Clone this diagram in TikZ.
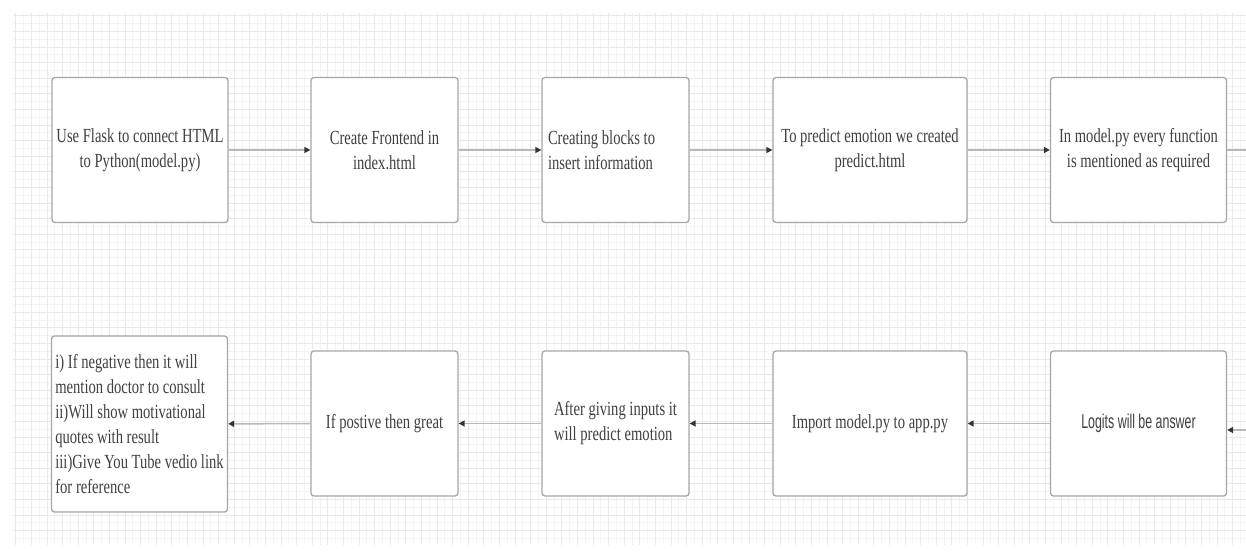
\documentclass[tikz,border=0pt]{standalone}
\usepackage{fontspec}
\setmainfont[FakeStretch=0.73]{Liberation Serif}
\newfontfamily\narrowsans[FakeStretch=0.62]{Liberation Sans}
\usetikzlibrary{arrows.meta}

\tikzset{
    block/.style = {
        draw=gray!70,
        line width=1.3pt,
        fill=white,
        rounded corners=3pt,
        inner sep=0pt,
        minimum width=147pt,
        minimum height=145pt,
        text=black!75,
        font=\fontsize{20}{25}\selectfont,
        align=center
    },
    wide/.style = {
        minimum width=176pt
    },
    wider/.style = {
        minimum width=194pt
    },
    flow/.style = {
        draw=gray!55,
        line width=1.5pt,
        -{Triangle[length=6pt,width=6pt,fill=black!80,color=black!80]}
    },
    paper/.style = {
        draw=gray!9,
        line width=0.5pt
    }
}

\begin{document}
\begin{tikzpicture}[x=1pt,y=-1pt]
    \useasboundingbox (0,0) rectangle (1246,556);

    % Draw background grid
    \draw[paper] (13,13) grid[step=7.8pt] (1246,545);
    \draw[paper, draw=gray!17] (13,13) grid[step=15.6pt] (1246,545);

    % Draw top row
    \node[block, wide]  (flask)    at (140,150)    {Use Flask to connect HTML\\to Python(model.py)};
    \node[block]        (frontend) at (384.5,150)  {Create Frontend in\\index.html};
    \node[block, align=flush left, text width=135pt, inner xsep=6pt]
                        (blocks)   at (615.5,150)  {Creating blocks to\\insert information};
    \node[block, wider] (predict)  at (870,150)    {To predict emotion we created\\predict.html};
    \node[block, wide]  (modelfn)  at (1138.5,150) {In model.py every function\\is mentioned as required};

    % Draw bottom row
    \node[block, wide, font=\narrowsans\fontsize{20}{25}\selectfont]
                        (logits)   at (1138.5,423.5) {Logits will be answer};
    \node[block, wider] (import)   at (870,423.5)  {Import model.py to app.py};
    \node[block, align=left] (inputs) at (615.5,423.5) {After giving inputs it\\will predict emotion};
    \node[block]        (positive) at (384.5,423.5) {If postive then great};
    \node[block, minimum width=176pt, minimum height=176pt, align=left]
                        (result)   at (139.5,424)
        {i) If negative then it will\\mention doctor to consult\\ii)Will show motivational\\quotes with result\\iii)Give You Tube vedio link\\for reference};

    % Draw arrows
    \coordinate (out) at (1246,150);
    \coordinate (in)  at (1246,430);
    \draw[flow] (flask)    -- (frontend);
    \draw[flow] (frontend) -- (blocks);
    \draw[flow] (blocks)   -- (predict);
    \draw[flow] (predict)  -- (modelfn);
    \draw[flow, -] (modelfn) -- (out);
    %
    \draw[flow] (in)       -- (in -| logits.east);
    \draw[flow] (logits)   -- (import);
    \draw[flow] (import)   -- (inputs);
    \draw[flow] (inputs)   -- (positive);
    \draw[flow] (positive) -- (result);
\end{tikzpicture}
\end{document}
